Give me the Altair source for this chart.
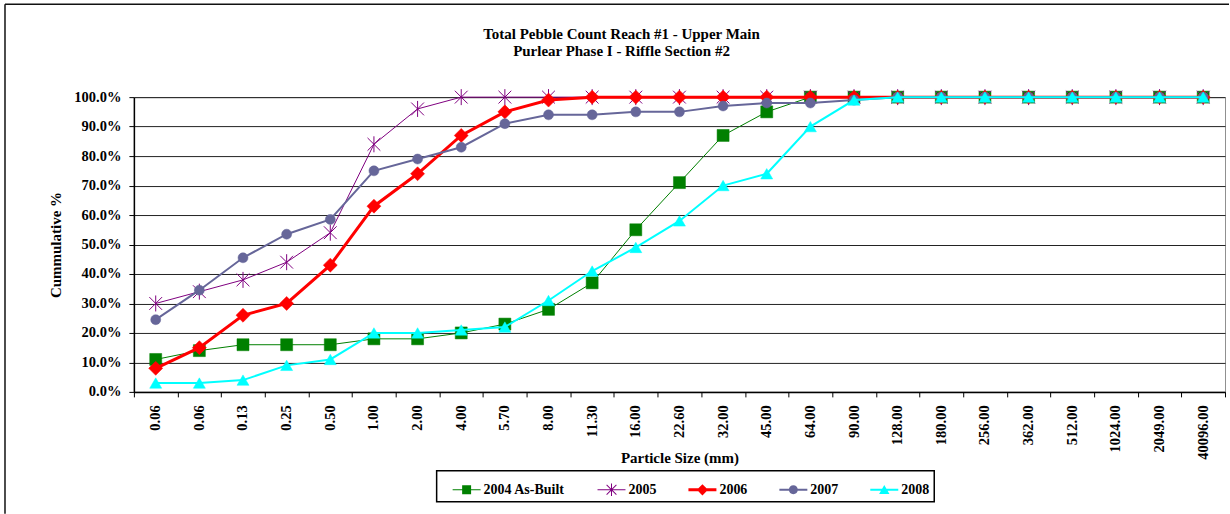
import json

import altair as alt
import pandas as pd

# Sieve sizes (mm) along the x axis; the first size appears twice in the field sheet
sizes_mm = ["0.06", "0.06", "0.13", "0.25", "0.50", "1.00", "2.00", "4.00", "5.70",
            "8.00", "11.30", "16.00", "22.60", "32.00", "45.00", "64.00", "90.00",
            "128.00", "180.00", "256.00", "362.00", "512.00", "1024.00", "2049.00",
            "40096.00"]

series_names = ["2004 As-Built", "2005", "2006", "2007", "2008"]

# Cumulative percent finer, one value per sieve size
pct_2004 = [11, 14, 16, 16, 16, 18, 18, 20, 23, 28, 37, 55, 71, 87, 95, 100, 100,
            100, 100, 100, 100, 100, 100, 100, 100]
pct_2005 = [30, 34, 38, 44, 54, 84, 96, 100, 100, 100, 100, 100, 100, 100, 100, 100,
            100, 100, 100, 100, 100, 100, 100, 100, 100]
pct_2006 = [8, 15, 26, 30, 43, 63, 74, 87, 95, 99, 100, 100, 100, 100, 100, 100, 100,
            100, 100, 100, 100, 100, 100, 100, 100]
pct_2007 = [24.5, 34.5, 45.5, 53.5, 58.5, 75, 79, 83, 91, 94, 94, 95, 95, 97, 98, 98,
            99, 100, 100, 100, 100, 100, 100, 100, 100]
pct_2008 = [3, 3, 4, 9, 11, 20, 20, 21, 22, 31, 41, 49, 58, 70, 74, 90, 99, 100, 100,
            100, 100, 100, 100, 100, 100]

series_values = [pct_2004, pct_2005, pct_2006, pct_2007, pct_2008]
series_colors = ["#008000", "#800080", "#FF0000", "#666699", "#00FFFF"]
line_widths = [1, 1, 3, 2, 2]

# Asterisk marker: an X crossed by a vertical stroke
ASTERISK = "M-0.8,-0.8L0.8,0.8M-0.8,0.8L0.8,-0.8M0,-1L0,1"
marker_shapes = ["square", ASTERISK, "diamond", "circle", "triangle-up"]
marker_sizes = [144, 256, 196, 100, 144]
marker_filled = [True, False, True, True, True]

# Legend glyphs: a line segment with the series marker on it (all filled outlines)
def bar(h):
    return f"M-1,{-h}H1V{h}H-1Z"

legend_glyphs = [
    bar(0.036) + "M-0.32,-0.32H0.32V0.32H-0.32Z",
    bar(0.036)
    + "M-0.036,-0.45H0.036V0.45H-0.036Z"
    + "M-0.325,-0.375L0.375,0.325L0.325,0.375L-0.375,-0.325Z"
    + "M-0.375,0.325L0.325,-0.375L0.375,-0.325L-0.325,0.375Z",
    bar(0.107) + "M0,-0.4L0.4,0L0,0.4L-0.4,0Z",
    bar(0.071) + "M0.32,0A0.32,0.32,0,1,1,-0.32,0A0.32,0.32,0,1,1,0.32,0Z",
    bar(0.071) + "M0,-0.34L0.37,0.3L-0.37,0.3Z",
]

rows = []
for name, vals in zip(series_names, series_values):
    for i, v in enumerate(vals):
        rows.append({"series": name, "idx": i, "pct": v})
df = pd.DataFrame(rows)

FONT = "Liberation Serif"
W, H = 1092, 295

x_enc = alt.X(
    "idx:O",
    bandPosition=0.5,
    scale=alt.Scale(type="band", paddingInner=0, paddingOuter=0),
    axis=alt.Axis(
        title="Particle Size (mm)",
        labelExpr=f"{json.dumps(sizes_mm)}[datum.value]",
        labelAngle=270,
        labelPadding=8,
        labelOverlap=False,
        labelFlush=False,
        labelBound=False,
        tickBand="extent",
        tickSize=5,
        grid=False,
        titleY=59,
        titleBaseline="top",
    ),
)
y_enc = alt.Y(
    "pct:Q",
    scale=alt.Scale(domain=[0, 100], nice=False, zero=True),
    axis=alt.Axis(
        title="Cummulative %",
        values=list(range(0, 101, 10)),
        labelExpr="format(datum.value, '.1f') + '%'",
        labelPadding=8,
        tickSize=5,
        grid=True,
        gridColor="#222222",
        gridWidth=1,
        titlePadding=10,
    ),
)

layers = []
for name, color, lw, shape, size, filled in zip(series_names, series_colors, line_widths,
                                                marker_shapes, marker_sizes, marker_filled):
    base = alt.Chart(df).transform_filter(alt.datum.series == name)
    layers.append(base.mark_line(color=color, strokeWidth=lw).encode(x=x_enc, y=y_enc))
    if filled:
        pts = base.mark_point(shape=shape, size=size, filled=True, fill=color,
                              stroke=color, strokeWidth=0.5, opacity=1)
    else:
        pts = base.mark_point(shape=shape, size=size, filled=False, stroke=color,
                              strokeWidth=1, opacity=1)
    layers.append(pts.encode(x=x_enc, y=y_enc))

legend_props = dict(
    title=None,
    orient="none",
    legendX=303,
    legendY=374,
    direction="horizontal",
    columns=5,
    symbolSize=784,
    symbolStrokeWidth=0,
    symbolOpacity=1,
    symbolOffset=11,
    labelFont=FONT,
    labelFontSize=14,
    labelFontWeight="bold",
    labelColor="black",
    labelOffset=3,
    columnPadding=21,
    padding=5,
    strokeColor="black",
    fillColor="white",
)

# Legend-only layer: no rows are drawn, entries come from the explicit domain
legend_layer = (
    alt.Chart(df)
    .transform_filter("false")
    .mark_point(filled=True, opacity=1)
    .encode(
        color=alt.Color("series:N",
                        scale=alt.Scale(domain=series_names, range=series_colors),
                        legend=alt.Legend(**legend_props)),
        shape=alt.Shape("series:N",
                        scale=alt.Scale(domain=series_names, range=legend_glyphs),
                        legend=alt.Legend(**legend_props)),
    )
)

# Outer chart border (top and left edges)
frame_data = alt.InlineData(values=[{"k": 0}])
frame_top = alt.Chart(frame_data).mark_rule(color="#111111", strokeWidth=1.5).encode(
    x=alt.value(-129), x2=alt.value(1096), y=alt.value(-93))
frame_left = alt.Chart(frame_data).mark_rule(color="#111111", strokeWidth=1.5).encode(
    x=alt.value(-129), y=alt.value(-93), y2=alt.value(417))

chart = (
    alt.layer(frame_top, frame_left, *layers, legend_layer)
    .properties(
        width=W,
        height=H,
        padding={"left": 4, "top": 3, "right": 0, "bottom": 0},
        background="white",
        title=alt.TitleParams(
            text=["Total Pebble Count Reach #1 - Upper Main",
                  "Purlear Phase I - Riffle Section #2"],
            font=FONT,
            fontSize=15,
            fontWeight="bold",
            color="black",
            anchor="middle",
            frame="group",
            dx=-58,
            offset=-56,
            lineHeight=17,
        ),
    )
    .configure_view(stroke="#909090", strokeWidth=1)
    .configure_legend(strokeWidth=1.5)
    .configure_axis(
        labelFont=FONT,
        labelFontSize=14.5,
        labelFontWeight="bold",
        labelColor="black",
        titleFont=FONT,
        titleFontSize=15,
        titleFontWeight="bold",
        titleColor="black",
        domainColor="black",
        domainWidth=1.5,
        tickColor="black",
        tickWidth=1,
    )
)

chart.save("out.html", embed_options={"renderer": "svg", "actions": False})
